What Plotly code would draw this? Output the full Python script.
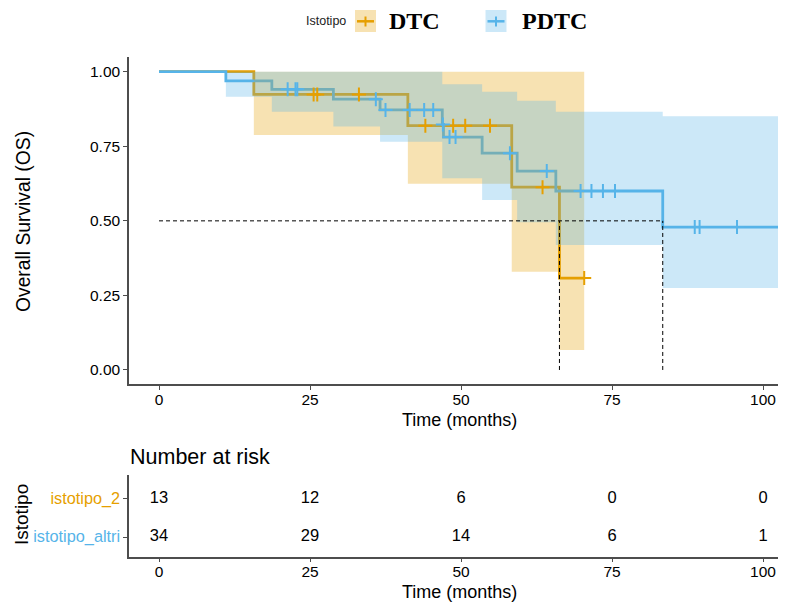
import plotly.graph_objects as go

# ---------------- data ----------------
groups = ["DTC", "PDTC"]
risk_labels = ["istotipo_2", "istotipo_altri"]

# DTC (istotipo_2)
dtc_event_times = [15.7, 41.2, 58.4, 66.3]
dtc_surv = [0.924, 0.819, 0.613, 0.308]
dtc_lower = [0.788, 0.624, 0.329, 0.067]
dtc_upper = [1.0, 1.0, 1.0, 1.0]
dtc_censor_times = [25.6, 26.2, 33.1, 44.1, 48.7, 50.7, 54.8, 63.5, 70.4]
dtc_end = 70.4

# PDTC (istotipo_altri)
pdtc_event_times = [11.07, 18.68, 28.87, 36.6, 46.9, 47.1, 53.5, 59.3, 65.7, 83.4]
pdtc_surv = [0.969, 0.941, 0.908, 0.872, 0.823, 0.781, 0.727, 0.667, 0.600, 0.479]
pdtc_lower = [0.916, 0.866, 0.816, 0.765, 0.643, 0.643, 0.570, 0.495, 0.419, 0.275]
pdtc_upper = [1.0, 1.0, 1.0, 1.0, 0.958, 0.958, 0.933, 0.903, 0.866, 0.851]
pdtc_censor_times = [21.3, 22.6, 22.9, 35.9, 37.5, 41.5, 43.9, 45.4, 47.0, 48.1,
                     49.1, 58.1, 64.2, 69.8, 71.6, 73.5, 75.5, 88.7, 89.5, 95.7]
pdtc_end = 105.0

risk_times = [0, 25, 50, 75, 100]
risk_dtc = [13, 12, 6, 0, 0]
risk_pdtc = [34, 29, 14, 6, 1]

x_ticks = [0, 25, 50, 75, 100]
y_ticks = [0.0, 0.25, 0.5, 0.75, 1.0]

# ---------------- style ----------------
ORANGE = "#E69F00"
BLUE = "#56B4E9"
ORANGE_FILL = "rgba(230,159,0,0.30)"
BLUE_FILL = "rgba(86,180,233,0.30)"
FONT = "Liberation Sans, Arial, sans-serif"
SERIF = "Liberation Serif, Times New Roman, serif"
OFF = 8            # page body margin
W, H = 778 - OFF, 603 - OFF


def px_x(p):
    return (p - OFF) / W


def px_y(p):
    return 1 - (p - OFF) / H


def surv_at(t, times, vals):
    v = 1.0
    for tt, vv in zip(times, vals):
        if tt <= t:
            v = vv
    return v


def band_polygon(times, lower, upper, t_end):
    xs_u, ys_u, xs_l, ys_l = [0.0], [1.0], [0.0], [1.0]
    for t, lo, up in zip(times, lower, upper):
        xs_u += [t, t]
        ys_u += [ys_u[-1], up]
        xs_l += [t, t]
        ys_l += [ys_l[-1], lo]
    xs_u.append(t_end)
    ys_u.append(ys_u[-1])
    xs_l.append(t_end)
    ys_l.append(ys_l[-1])
    return xs_u + xs_l[::-1], ys_u + ys_l[::-1]


def median_time(times, vals):
    for t, v in zip(times, vals):
        if v <= 0.5:
            return t
    return None


fig = go.Figure()

series = [
    (dtc_event_times, dtc_surv, dtc_lower, dtc_upper, dtc_censor_times, dtc_end, ORANGE, ORANGE_FILL),
    (pdtc_event_times, pdtc_surv, pdtc_lower, pdtc_upper, pdtc_censor_times, pdtc_end, BLUE, BLUE_FILL),
]

# survival step lines
for times, surv, lo, up, cens, tend, col, fcol in series:
    fig.add_trace(go.Scatter(
        x=[0] + times + [tend], y=[1.0] + surv + [surv[-1]],
        mode="lines", line=dict(color=col, width=2.8, shape="hv"),
        showlegend=False, hoverinfo="skip", xaxis="x", yaxis="y"))

# confidence bands (drawn over lines)
for times, surv, lo, up, cens, tend, col, fcol in series:
    bx, by = band_polygon(times, lo, up, tend)
    fig.add_trace(go.Scatter(
        x=bx, y=by, mode="lines", fill="toself", fillcolor=fcol,
        line=dict(width=0, color=fcol), showlegend=False, hoverinfo="skip",
        xaxis="x", yaxis="y"))

# censor marks
for times, surv, lo, up, cens, tend, col, fcol in series:
    fig.add_trace(go.Scatter(
        x=cens, y=[surv_at(c, times, surv) for c in cens], mode="markers",
        marker=dict(symbol="cross-thin", size=10, line=dict(color=col, width=2)),
        showlegend=False, hoverinfo="skip", xaxis="x", yaxis="y"))

# risk table numbers
fig.add_trace(go.Scatter(
    x=risk_times, y=[2] * len(risk_times), mode="text",
    text=[str(v) for v in risk_dtc], textfont=dict(family=FONT, size=16.5, color="black"),
    showlegend=False, hoverinfo="skip", xaxis="x2", yaxis="y2"))
fig.add_trace(go.Scatter(
    x=risk_times, y=[1] * len(risk_times), mode="text",
    text=[str(v) for v in risk_pdtc], textfont=dict(family=FONT, size=16.5, color="black"),
    showlegend=False, hoverinfo="skip", xaxis="x2", yaxis="y2"))

# median dashed lines
med_dtc = median_time(dtc_event_times, dtc_surv)
med_pdtc = median_time(pdtc_event_times, pdtc_surv)
shapes = []
dash_line = dict(color="black", width=1, dash="4px,3px")
shapes.append(dict(type="line", xref="x", yref="y", x0=0, x1=max(med_dtc, med_pdtc),
                   y0=0.5, y1=0.5, line=dash_line, layer="above"))
for m in (med_dtc, med_pdtc):
    shapes.append(dict(type="line", xref="x", yref="y", x0=m, x1=m, y0=0, y1=0.5,
                       line=dash_line, layer="above"))

# manual legend
annotations = []
annotations.append(dict(text="Istotipo", x=px_x(304), y=px_y(21), xref="paper", yref="paper",
                        xanchor="left", yanchor="middle", showarrow=False,
                        font=dict(family=FONT, size=12.5, color="#222")))
legend_items = [(groups[0], ORANGE, ORANGE_FILL, 355, 388), (groups[1], BLUE, BLUE_FILL, 485.5, 520.5)]
for name, col, fcol, bx0, tx in legend_items:
    shapes.append(dict(type="rect", xref="paper", yref="paper", x0=px_x(bx0), x1=px_x(bx0 + 21),
                       y0=px_y(10), y1=px_y(32), fillcolor=fcol, line=dict(width=0), layer="above"))
    shapes.append(dict(type="line", xref="paper", yref="paper", x0=px_x(bx0 + 2), x1=px_x(bx0 + 19),
                       y0=px_y(21.3), y1=px_y(21.3), line=dict(color=col, width=2.5), layer="above"))
    shapes.append(dict(type="line", xref="paper", yref="paper", x0=px_x(bx0 + 10.5), x1=px_x(bx0 + 10.5),
                       y0=px_y(16.5), y1=px_y(26.5), line=dict(color=col, width=2), layer="above"))
    annotations.append(dict(text="<b>%s</b>" % name, x=px_x(tx - 1), y=px_y(21), xref="paper", yref="paper",
                            xanchor="left", yanchor="middle", showarrow=False,
                            font=dict(family=SERIF, size=24, color="black")))

# titles
annotations.append(dict(text="Overall Survival (OS)", x=px_x(23), y=px_y(222), xref="paper", yref="paper",
                        textangle=-90, showarrow=False, xanchor="center", yanchor="middle",
                        font=dict(family=FONT, size=19.3, color="black")))
annotations.append(dict(text="Time (months)", x=px_x(459), y=px_y(420), xref="paper", yref="paper",
                        showarrow=False, xanchor="center", yanchor="middle",
                        font=dict(family=FONT, size=18, color="black")))
annotations.append(dict(text="Number at risk", x=px_x(128), y=px_y(457), xref="paper", yref="paper",
                        showarrow=False, xanchor="left", yanchor="middle",
                        font=dict(family=FONT, size=21.5, color="black")))
annotations.append(dict(text="Istotipo", x=px_x(21.5), y=px_y(514.5), xref="paper", yref="paper",
                        textangle=-90, showarrow=False, xanchor="center", yanchor="middle",
                        font=dict(family=FONT, size=19, color="black")))
annotations.append(dict(text="Time (months)", x=px_x(459), y=px_y(592), xref="paper", yref="paper",
                        showarrow=False, xanchor="center", yanchor="middle",
                        font=dict(family=FONT, size=18, color="black")))

# x scale: 0 at screen px 159, 6.04 px per month, visible plot from px 129 to 778
PX_PER_MONTH = 6.04
x_range = [(129 - 159) / PX_PER_MONTH, (778 - 159) / PX_PER_MONTH]
axis_common = dict(showgrid=False, zeroline=False, showline=True, linecolor="#4d4d4d", linewidth=1.5,
                   ticks="outside", ticklen=4, tickcolor="#4d4d4d", tickwidth=1.2,
                   tickfont=dict(family=FONT, size=15.5, color="black"))

fig.update_layout(
    width=W, height=H, margin=dict(l=0, r=0, t=0, b=0),
    paper_bgcolor="white", plot_bgcolor="white", showlegend=False,
    xaxis=dict(domain=[px_x(129), 1.0], range=x_range, tickvals=x_ticks, anchor="y",
               ticklabelstandoff=-4, **axis_common),
    yaxis=dict(domain=[px_y(384.3), px_y(56.8)], range=[-0.048, 1.05], tickvals=y_ticks,
               tickformat=".2f", anchor="x", **axis_common),
    xaxis2=dict(domain=[px_x(129), 1.0], range=x_range, tickvals=x_ticks, anchor="y2",
                ticklabelstandoff=-4, **axis_common),
    yaxis2=dict(domain=[px_y(556.7), px_y(475)], range=[0.482, 2.63], tickvals=[2, 1],
                ticktext=['<span style="color:%s;font-size:16.3px">%s</span>' % (ORANGE, risk_labels[0]),
                          '<span style="color:%s;font-size:16.3px">%s</span>' % (BLUE, risk_labels[1])],
                anchor="x2", **axis_common),
    shapes=shapes, annotations=annotations,
)

fig.write_html("out.html")
